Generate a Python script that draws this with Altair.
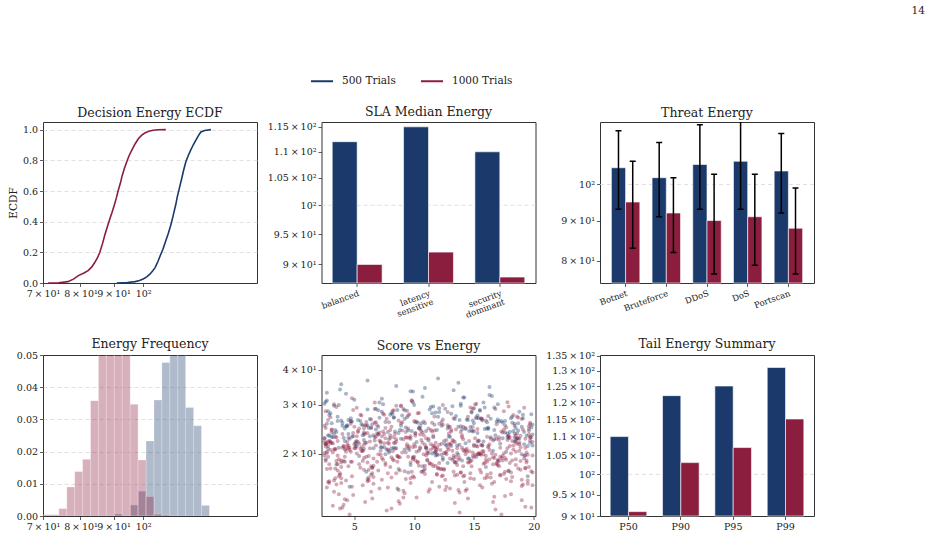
import altair as alt
import pandas as pd

SERIES = ["500 Trials", "1000 Trials"]
COLORS = ["#1b3a6b", "#8b1e3f"]
FONT = "DejaVu Serif"
INK = "#222222"
SPINE = "#333333"
GRID = "#d8d8d8"

PANEL_W = 214
PANEL_H = 161

# Decision-energy ECDF, sampled along each curve
ecdf_energy_500 = [91.0, 94.5, 97.2, 98.7, 100.0, 101.3, 102.5, 103.5, 104.4, 105.4, 106.3,
                   107.3, 108.2, 109.3, 110.3, 111.0, 111.6, 112.3, 112.9, 113.8, 114.7,
                   115.5, 116.4, 117.4, 118.4, 119.5, 120.6, 121.7, 122.8, 124.5, 127.3]
ecdf_frac_500 = [0.0, 0.003, 0.009, 0.016, 0.026, 0.04, 0.059, 0.08, 0.102, 0.14, 0.179,
                 0.22, 0.266, 0.32, 0.375, 0.42, 0.462, 0.51, 0.56, 0.62, 0.68,
                 0.735, 0.789, 0.83, 0.865, 0.9, 0.93, 0.96, 0.985, 0.995, 1.0]
ecdf_energy_1000 = [71.3, 74.0, 76.5, 78.0, 79.4, 81.0, 82.2, 83.3, 84.2, 85.0, 85.7,
                    86.5, 87.2, 88.0, 88.8, 89.5, 90.2, 90.9, 91.5, 92.2, 92.8,
                    93.5, 94.3, 95.1, 96.0, 97.1, 98.3, 99.4, 100.6, 102.0, 103.6,
                    105.5, 108.4]
ecdf_frac_1000 = [0.0, 0.002, 0.009, 0.025, 0.048, 0.065, 0.081, 0.105, 0.135, 0.165, 0.2,
                  0.255, 0.31, 0.365, 0.418, 0.46, 0.505, 0.555, 0.603, 0.65, 0.7,
                  0.745, 0.789, 0.83, 0.865, 0.905, 0.941, 0.963, 0.978, 0.99, 0.996,
                  0.999, 1.0]

# Median energy per SLA profile
sla_profiles = ["balanced", "latency sensitive", "security dominant"]
sla_median_500 = [112, 115, 110]
sla_median_1000 = [90, 92, 88]

# Energy per threat type (mean and standard deviation)
threat_types = ["Botnet", "Bruteforce", "DDoS", "DoS", "Portscan"]
threat_mean_500 = [105, 102, 106, 107, 104]
threat_std_500 = [12, 11, 13, 14, 12]
threat_mean_1000 = [95, 92, 90, 91, 88]
threat_std_1000 = [12, 10, 13, 12, 11]

# Energy histogram: shared log-spaced bin edges and density per bin
hist_edges = [70.00, 72.00, 74.07, 76.19, 78.37, 80.61, 82.92, 85.29, 87.73, 90.25,
              92.83, 95.49, 98.22, 101.03, 103.93, 106.90, 109.96, 113.11, 116.35,
              119.68, 123.11, 126.63, 130.26, 133.99, 137.82, 141.77, 145.83, 150.00]
hist_density_500 = [0, 0, 0, 0, 0, 0, 0, 0, 0, 0.0006, 0, 0.0034, 0.0077, 0.0233,
                    0.0360, 0.0477, 0.0620, 0.0660, 0.0337, 0.0280, 0.0033,
                    0, 0, 0, 0, 0, 0]
hist_density_1000 = [0.0004, 0.0004, 0.0023, 0.0090, 0.0138, 0.0176, 0.0358, 0.0580,
                     0.0690, 0.0680, 0.0610, 0.0347, 0.0174, 0.0061, 0.0006, 0.0003,
                     0, 0, 0, 0, 0, 0, 0, 0, 0, 0, 0]

# Score vs energy samples, stored in tenths
scatter_x_500 = [
    88, 154, 37, 121, 193, 65, 142, 29, 108, 176, 52, 131, 84, 163, 44, 118, 197, 73, 150, 99,
    161, 46, 113, 79, 185, 27, 136, 94, 58, 170, 124, 40, 148, 102, 195, 68, 157, 33, 129, 81,
    33, 126, 172, 61, 97, 145, 190, 50, 116, 80, 159, 28, 137, 103, 67, 183, 42, 155, 92, 199,
    120, 75, 198, 43, 152, 106, 31, 167, 87, 134, 59, 180, 25, 141, 96, 70, 174, 115, 48, 162,
    179, 55, 100, 147, 26, 131, 82, 192, 64, 117, 153, 38, 168, 91, 124, 47, 187, 72, 139, 109,
    70, 143, 30, 186, 112, 53, 165, 89, 128, 36, 196, 77, 150, 101, 61, 178, 119, 44, 157, 95,
    138, 35, 177, 86, 58, 123, 160, 27, 105, 192, 71, 146, 49, 116, 184, 83, 133, 62, 169, 41,
    51, 188, 93, 133, 39, 164, 74, 110, 199, 60, 149, 29, 125, 85, 174, 45, 104, 156, 68, 140,
    104, 166, 63, 25, 141, 89, 195, 118, 46, 176, 132, 76, 158, 34, 111, 182, 57, 97, 150, 73,
    194, 83, 127, 56, 171, 37, 110, 149, 92, 28, 184, 65, 137, 120, 42, 161, 79, 198, 101, 144,
    27, 112, 159, 98, 136, 181, 48, 73, 126, 190, 35, 153, 87, 66, 171, 109, 143, 54, 121, 188,
    146, 61, 85, 173, 32, 118, 158, 43, 197, 95, 135, 70, 182, 52, 107, 128, 26, 164, 80, 115,
    83, 199, 42, 139, 66, 107, 187, 30, 155, 119, 76, 170, 97, 39, 129, 58, 178, 90, 145, 123,
    167, 40, 123, 81, 148, 26, 99, 176, 63, 134, 191, 51, 114, 162, 86, 36, 153, 71, 185, 105,
    57, 130, 191, 110, 45, 163, 78, 140, 31, 185, 94, 117, 64, 179, 152, 28, 100, 138, 47, 167]
scatter_y_500 = [
    243, 268, 210, 291, 197, 255, 318, 232, 174, 262, 222, 278, 240, 347, 251, 203, 228, 283, 215, 306,
    259, 226, 288, 205, 247, 331, 214, 270, 238, 301, 193, 252, 281, 220, 166, 244, 263, 297, 231, 209,
    236, 290, 217, 253, 182, 264, 199, 312, 229, 276, 245, 208, 359, 258, 223, 241, 187, 285, 266, 234,
    271, 211, 248, 328, 195, 257, 230, 293, 176, 266, 219, 239, 302, 250, 206, 286, 227, 200, 261, 245,
    227, 262, 195, 249, 307, 213, 278, 239, 168, 254, 221, 340, 233, 289, 190, 268, 242, 211, 297, 257,
    250, 218, 279, 236, 201, 264, 322, 226, 185, 271, 245, 207, 291, 259, 366, 230, 198, 253, 214, 242,
    264, 239, 203, 287, 224, 252, 179, 310, 245, 216, 269, 192, 231, 295, 256, 210, 338, 247, 261, 228,
    218, 283, 248, 193, 263, 229, 301, 209, 254, 172, 240, 275, 222, 350, 258, 235, 205, 267, 290, 244,
    247, 205, 266, 227, 318, 252, 213, 281, 152, 238, 296, 260, 221, 243, 189, 271, 233, 335, 257, 211,
    232, 270, 214, 255, 188, 299, 241, 263, 207, 284, 229, 178, 250, 372, 222, 246, 202, 277, 236, 265,
    256, 223, 293, 241, 201, 268, 230, 315, 216, 250, 183, 274, 237, 209, 261, 344, 245, 196, 282, 226,
    241, 288, 209, 262, 229, 197, 305, 251, 219, 171, 273, 234, 258, 213, 320, 246, 191, 267, 228, 279,
    269, 214, 246, 302, 233, 180, 257, 221, 287, 243, 199, 265, 226, 355, 250, 208, 236, 274, 192, 260,
    225, 258, 198, 280, 242, 216, 334, 253, 231, 186, 268, 212, 294, 248, 150, 262, 237, 305, 220, 251,
    253, 230, 276, 211, 264, 325, 239, 189, 257, 224, 285, 202, 247, 173, 268, 233, 299, 215, 261, 243]
scatter_x_1000 = [
    137, 52, 181, 96, 29, 160, 74, 118, 193, 43, 150, 88, 127, 61, 172, 35, 105, 144, 69, 186,
    58, 122, 31, 176, 91, 143, 197, 66, 110, 39, 155, 83, 131, 48, 189, 101, 164, 27, 77, 140,
    113, 184, 71, 26, 149, 95, 134, 57, 198, 168, 41, 86, 121, 179, 63, 107, 33, 152, 192, 79,
    45, 163, 99, 128, 183, 37, 72, 146, 116, 55, 190, 84, 158, 28, 133, 67, 174, 104, 195, 50,
    175, 81, 139, 30, 119, 59, 187, 97, 154, 42, 126, 68, 166, 108, 34, 147, 89, 194, 53, 131,
    92, 136, 25, 170, 64, 112, 199, 46, 157, 76, 124, 185, 38, 101, 142, 60, 178, 87, 117, 162,
    129, 47, 191, 75, 156, 103, 32, 167, 85, 138, 58, 182, 114, 26, 148, 70, 196, 93, 44, 171,
    66, 153, 109, 180, 40, 125, 90, 161, 29, 135, 78, 196, 51, 115, 145, 36, 188, 98, 62, 173,
    188, 34, 120, 73, 159, 49, 141, 100, 27, 177, 82, 130, 57, 192, 111, 65, 151, 39, 169, 94,
    104, 169, 56, 143, 30, 95, 186, 123, 71, 158, 41, 110, 197, 80, 134, 48, 175, 61, 151, 118,
    33, 127, 80, 194, 62, 148, 105, 174, 42, 90, 136, 25, 165, 115, 54, 183, 73, 140, 99, 157,
    150, 68, 177, 112, 38, 132, 55, 189, 86, 162, 28, 107, 145, 74, 199, 45, 124, 93, 166, 59,
    79, 196, 43, 138, 102, 167, 26, 119, 61, 181, 87, 153, 35, 128, 70, 186, 97, 146, 50, 114,
    160, 31, 97, 72, 185, 52, 122, 141, 83, 37, 176, 109, 64, 155, 27, 133, 190, 46, 103, 171,
    117, 85, 149, 195, 44, 164, 76, 29, 129, 58, 183, 100, 140, 34, 171, 67, 111, 154, 89, 182,
    41, 178, 126, 57, 93, 137, 192, 68, 106, 150, 32, 161, 81, 120, 199, 49, 172, 95, 135, 25,
    197, 60, 88, 163, 121, 28, 144, 77, 182, 109, 53, 132, 40, 175, 96, 156, 66, 187, 113, 84,
    82, 142, 36, 114, 170, 65, 99, 189, 47, 127, 159, 75, 103, 30, 147, 193, 55, 130, 179, 62,
    139, 54, 168, 27, 105, 83, 152, 119, 193, 71, 36, 143, 90, 177, 45, 123, 60, 166, 98, 186,
    63, 180, 115, 48, 157, 92, 34, 133, 74, 198, 101, 167, 26, 139, 84, 118, 184, 52, 149, 78,
    173, 94, 35, 128, 65, 190, 108, 145, 51, 161, 80, 124, 30, 179, 98, 156, 43, 116, 137, 69,
    50, 125, 184, 88, 138, 32, 169, 59, 102, 195, 76, 148, 117, 38, 162, 87, 131, 25, 106, 175,
    121, 70, 154, 39, 197, 111, 82, 176, 56, 134, 95, 28, 164, 67, 141, 188, 47, 100, 153, 36,
    26, 161, 93, 146, 76, 181, 42, 120, 67, 151, 199, 85, 130, 53, 109, 172, 33, 158, 91, 127,
    187, 44, 135, 64, 113, 26, 170, 97, 155, 81, 123, 57, 191, 37, 144, 104, 73, 165, 49, 116,
    96, 147, 61, 178, 34, 130, 86, 112, 193, 45, 168, 72, 139, 27, 185, 58, 102, 152, 79, 143,
    154, 31, 107, 83, 166, 46, 194, 124, 62, 141, 99, 174, 39, 116, 75, 157, 28, 134, 185, 89,
    69, 189, 40, 119, 149, 91, 56, 172, 133, 29, 106, 181, 78, 160, 48, 125, 94, 198, 35, 142,
    132, 78, 163, 54, 101, 190, 31, 147, 87, 126, 64, 179, 110, 41, 155, 92, 169, 25, 118, 60,
    47, 115, 196, 136, 72, 156, 99, 33, 180, 58, 129, 85, 150, 66, 108, 193, 39, 173, 81, 121]
scatter_y_1000 = [
    198, 231, 171, 212, 157, 263, 190, 219, 178, 203, 241, 132, 224, 186, 168, 294, 208, 149, 236, 272,
    215, 176, 244, 193, 139, 206, 258, 181, 227, 163, 199, 286, 218, 152, 188, 232, 170, 201, 267, 210,
    184, 221, 150, 247, 196, 274, 167, 205, 229, 126, 213, 187, 256, 174, 209, 238, 160, 302, 192, 217,
    228, 191, 166, 253, 207, 143, 198, 222, 180, 276, 161, 235, 204, 213, 172, 289, 189, 246, 156, 216,
    200, 164, 239, 177, 211, 134, 269, 186, 223, 195, 148, 230, 183, 261, 208, 170, 296, 202, 220, 243,
    173, 209, 252, 188, 146, 226, 197, 121, 214, 182, 265, 203, 168, 237, 158, 219, 306, 194, 242, 211,
    236, 187, 155, 218, 171, 279, 202, 140, 225, 193, 246, 165, 207, 284, 180, 199, 251, 162, 214, 229,
    192, 245, 176, 213, 128, 201, 259, 168, 222, 186, 151, 234, 209, 183, 271, 197, 216, 311, 160, 240,
    219, 163, 198, 231, 185, 142, 206, 262, 176, 248, 191, 215, 154, 292, 204, 170, 227, 189, 255, 212,
    181, 226, 204, 147, 270, 195, 217, 166, 238, 199, 131, 210, 255, 179, 220, 187, 244, 159, 300, 203,
    207, 152, 233, 189, 175, 283, 211, 196, 137, 242, 168, 221, 200, 258, 183, 214, 161, 229, 193, 266,
    162, 214, 190, 246, 127, 205, 178, 232, 196, 273, 158, 219, 186, 240, 171, 209, 299, 202, 223, 253,
    225, 179, 208, 145, 261, 193, 218, 169, 237, 200, 135, 212, 188, 282, 174, 227, 163, 204, 250, 216,
    196, 238, 157, 221, 182, 292, 206, 166, 229, 191, 141, 215, 248, 175, 203, 268, 153, 210, 187, 224,
    212, 170, 249, 198, 136, 226, 185, 159, 217, 193, 275, 164, 233, 207, 180, 305, 200, 222, 257, 189,
    188, 224, 161, 205, 239, 148, 197, 259, 172, 213, 130, 230, 194, 178, 220, 287, 167, 209, 244, 201,
    230, 195, 174, 216, 152, 264, 203, 125, 222, 181, 241, 190, 210, 169, 277, 198, 156, 227, 185, 218,
    204, 167, 222, 243, 190, 138, 211, 175, 256, 199, 163, 235, 186, 219, 293, 177, 208, 150, 231, 196,
    171, 217, 198, 151, 234, 189, 270, 207, 129, 223, 183, 247, 202, 162, 214, 176, 260, 194, 309, 226,
    221, 185, 240, 166, 204, 144, 230, 197, 278, 173, 212, 158, 188, 251, 208, 181, 236, 200, 290, 219,
    193, 228, 155, 210, 178, 266, 199, 138, 220, 187, 243, 167, 206, 295, 172, 215, 160, 232, 190, 253,
    209, 176, 252, 194, 123, 218, 183, 236, 203, 160, 227, 189, 272, 170, 213, 148, 240, 197, 224, 284,
    185, 235, 201, 157, 223, 190, 285, 172, 211, 133, 246, 195, 164, 229, 180, 205, 262, 216, 199, 174,
    216, 164, 229, 186, 247, 143, 207, 177, 258, 198, 154, 221, 192, 239, 169, 210, 301, 184, 225, 203,
    177, 220, 195, 265, 149, 212, 182, 231, 200, 127, 217, 188, 244, 166, 208, 280, 193, 156, 237, 214,
    228, 188, 162, 209, 177, 249, 196, 146, 226, 180, 289, 205, 171, 218, 191, 234, 139, 213, 259, 199,
    199, 243, 172, 219, 134, 206, 186, 254, 164, 225, 194, 238, 179, 210, 276, 151, 221, 187, 232, 298,
    187, 211, 235, 168, 202, 147, 274, 195, 222, 183, 241, 159, 207, 190, 316, 175, 216, 128, 229, 204,
    224, 170, 206, 246, 189, 136, 218, 163, 263, 201, 180, 232, 197, 212, 154, 286, 185, 227, 208, 252,
    203, 158, 241, 182, 219, 268, 191, 146, 228, 175, 207, 297, 194, 165, 233, 210, 186, 121, 250, 215]

# Tail percentiles of decision energy
tail_levels = ["P50", "P90", "P95", "P99"]
tail_500 = [110, 122, 125, 131]
tail_1000 = [91, 103, 107, 115]

# Log-axis labels in mantissa x 10^exponent form
EXP = "floor(log(datum.value) / LN10 + 1e-6)"
MANT = f"round(datum.value / pow(10, {EXP}) * 100) / 100"
SUP = f"({EXP} == 2 ? '\u00b2' : '\u00b9')"
LOG_LABEL = f"({MANT} == 1 ? '' : {MANT} + '\u2009\u00d7\u2009') + '10' + {SUP}"


def color_enc(legend=None):
    return alt.Color("series:N", scale=alt.Scale(domain=SERIES, range=COLORS), legend=legend)


def log_axis(values):
    return alt.Axis(values=values, labelExpr=LOG_LABEL, title=None, grid=False)


def log_y(field, domain, ticks):
    return alt.Y(f"{field}:Q", scale=alt.Scale(type="log", domain=domain, nice=False),
                 axis=log_axis(ticks))


def decade_grid(domain, ticks, field="energy"):
    return alt.Chart(pd.DataFrame({field: [100]})).mark_rule(
        color=GRID, strokeDash=[4, 3], strokeWidth=0.8
    ).encode(y=log_y(field, domain, ticks))


def inner_grid(lo, hi):
    # hide gridlines that would sit on the frame
    return {"condition": {"test": f"datum.value <= {lo} || datum.value >= {hi}", "value": 0},
            "value": 1}


def band_x(field, cats, outer, axis):
    return alt.X(f"{field}:N", sort=cats, scale=alt.Scale(paddingInner=0, paddingOuter=outer),
                 axis=axis)


X_OFFSET = alt.XOffset("series:N", sort=SERIES,
                       scale=alt.Scale(domain=SERIES, paddingInner=0, paddingOuter=0.43))


def long_table(cat_name, cats, values_by_series):
    rows = []
    for s, vals in zip(SERIES, values_by_series):
        for c, v in zip(cats, vals):
            rows.append({cat_name: c, "series": s, "energy": v})
    return pd.DataFrame(rows)


# ---- Decision Energy ECDF ----
ecdf_df = pd.concat([
    pd.DataFrame({"energy": ecdf_energy_500, "frac": ecdf_frac_500, "series": SERIES[0]}),
    pd.DataFrame({"energy": ecdf_energy_1000, "frac": ecdf_frac_1000, "series": SERIES[1]}),
])
legend = alt.Legend(
    orient="none", legendX=267, legendY=-53, direction="horizontal", title=None,
    symbolType="stroke", symbolSize=484, symbolStrokeWidth=2, labelFont=FONT,
    labelFontSize=10.5, labelColor=INK, labelOffset=8, columnPadding=21, padding=0,
)
energy_log_x = alt.Scale(type="log", domain=[70, 150], nice=False)
p1 = alt.Chart(ecdf_df, title="Decision Energy ECDF").mark_line(strokeWidth=1.6).encode(
    x=alt.X("energy:Q", scale=energy_log_x, axis=log_axis([70, 80, 90, 100])),
    y=alt.Y("frac:Q", scale=alt.Scale(domain=[0, 1.05], nice=False),
            axis=alt.Axis(values=[0, 0.2, 0.4, 0.6, 0.8, 1.0], format=".1f", title="ECDF",
                          grid=True, gridOpacity=inner_grid(0, 1.05), titlePadding=4)),
    color=color_enc(legend),
).properties(width=PANEL_W, height=PANEL_H)

# ---- SLA Median Energy ----
sla_dom, sla_ticks = [87.07, 116.0], [90, 95, 100, 105, 110, 115]
sla_df = long_table("profile", sla_profiles, [sla_median_500, sla_median_1000])
rot_axis = dict(title=None, labelAngle=340, labelAlign="right", labelBaseline="top",
                labelFontSize=8.5, labelExpr="split(datum.label, ' ')", labelLineHeight=9)
p2 = alt.layer(
    decade_grid(sla_dom, sla_ticks),
    alt.Chart(sla_df).mark_bar(stroke="white", strokeWidth=0.6).encode(
        x=band_x("profile", sla_profiles, 0, alt.Axis(**rot_axis)),
        xOffset=X_OFFSET,
        y=log_y("energy", sla_dom, sla_ticks),
        y2=alt.datum(sla_dom[0]),
        color=color_enc(),
    ),
    title="SLA Median Energy",
).properties(width=PANEL_W, height=PANEL_H)

# ---- Threat Energy ----
thr_dom, thr_ticks = [75, 120], [80, 90, 100]
thr_rows = []
for s, means, stds in [(SERIES[0], threat_mean_500, threat_std_500),
                       (SERIES[1], threat_mean_1000, threat_std_1000)]:
    for t, m, sd in zip(threat_types, means, stds):
        thr_rows.append({"threat": t, "series": s, "energy": m, "lo": m - sd, "hi": m + sd})
thr_df = pd.DataFrame(thr_rows)
thr_x = band_x("threat", threat_types, 0.129, alt.Axis(**rot_axis))
thr_base = alt.Chart(thr_df)
p3 = alt.layer(
    decade_grid(thr_dom, thr_ticks),
    thr_base.mark_bar(stroke="white", strokeWidth=0.6).encode(
        x=thr_x, xOffset=X_OFFSET, y=log_y("energy", thr_dom, thr_ticks),
        y2=alt.datum(thr_dom[0]), color=color_enc()),
    # error bar stems
    thr_base.mark_bar(width=1.5, color="black", clip=True).encode(
        x=thr_x, xOffset=X_OFFSET, y=log_y("lo", thr_dom, thr_ticks), y2="hi:Q"),
    # error bar caps
    thr_base.mark_bar(width=6, fill="black", stroke="black", strokeWidth=1.5, clip=True).encode(
        x=thr_x, xOffset=X_OFFSET, y=log_y("lo", thr_dom, thr_ticks), y2="lo:Q"),
    thr_base.mark_bar(width=6, fill="black", stroke="black", strokeWidth=1.5, clip=True).encode(
        x=thr_x, xOffset=X_OFFSET, y=log_y("hi", thr_dom, thr_ticks), y2="hi:Q"),
    title="Threat Energy",
).properties(width=PANEL_W, height=PANEL_H)

# ---- Energy Frequency ----
hist_rows = []
for s, dens in [(SERIES[0], hist_density_500), (SERIES[1], hist_density_1000)]:
    for i, d in enumerate(dens):
        if d > 0:
            hist_rows.append({"series": s, "lo": hist_edges[i], "hi": hist_edges[i + 1],
                              "density": d})
hist_df = pd.DataFrame(hist_rows)
p4 = alt.Chart(hist_df, title=alt.TitleParams("Energy Frequency", dy=3)).mark_rect(
    fillOpacity=0.35, stroke="white", strokeWidth=0.5, strokeOpacity=0.5, clip=True
).encode(
    x=alt.X("lo:Q", scale=energy_log_x, axis=log_axis([70, 80, 90, 100])),
    x2="hi:Q",
    y=alt.Y("density:Q", scale=alt.Scale(domain=[0, 0.05], nice=False),
            axis=alt.Axis(values=[0, 0.01, 0.02, 0.03, 0.04, 0.05], format=".2f",
                          title=None, grid=True, gridOpacity=inner_grid(0, 0.0499))),
    y2=alt.datum(0),
    color=color_enc(),
).properties(width=PANEL_W, height=PANEL_H)

# ---- Score vs Energy ----
sc_df = pd.concat([
    pd.DataFrame({"x": scatter_x_500, "y": scatter_y_500, "series": SERIES[0]}),
    pd.DataFrame({"x": scatter_x_1000, "y": scatter_y_1000, "series": SERIES[1]}),
])
p5 = alt.Chart(sc_df, title="Score vs Energy").transform_calculate(
    xv="datum.x / 10", yv="datum.y / 10"
).mark_circle(size=16, opacity=0.38, clip=True).encode(
    x=alt.X("xv:Q", scale=alt.Scale(domain=[2.25, 20.15], nice=False, zero=False),
            axis=alt.Axis(values=[5, 10, 15, 20], format="d", title=None, grid=False)),
    y=alt.Y("yv:Q", scale=alt.Scale(type="log", domain=[11.94, 45.2], nice=False),
            axis=log_axis([20, 30, 40])),
    color=color_enc(),
).properties(width=PANEL_W, height=PANEL_H)

# ---- Tail Energy Summary ----
tail_dom = [90, 135.2]
tail_ticks = [90, 95, 100, 105, 110, 115, 120, 125, 130, 135]
tail_df = long_table("level", tail_levels, [tail_500, tail_1000])
p6 = alt.layer(
    decade_grid(tail_dom, tail_ticks),
    alt.Chart(tail_df).mark_bar(stroke="white", strokeWidth=0.6).encode(
        x=band_x("level", tail_levels, 0.044,
                 alt.Axis(title=None, labelAngle=0, labelFontSize=9.5)),
        xOffset=X_OFFSET,
        y=log_y("energy", tail_dom, tail_ticks),
        y2=alt.datum(tail_dom[0]),
        color=color_enc(),
    ),
    title=alt.TitleParams("Tail Energy Summary", dy=3),
).properties(width=PANEL_W, height=PANEL_H)

chart = alt.concat(
    p1, p2, p3, p4, p5, p6,
    columns=3,
    spacing=alt.RowColnumber(row=72, column=64.5),
    bounds="flush",
    title=alt.TitleParams("14", anchor="end", font=FONT, fontSize=10.5, fontWeight="normal",
                          color=INK, offset=53, dx=110),
).resolve_scale(
    xOffset="independent"
).properties(
    padding={"left": 7, "top": 5, "right": 0, "bottom": 0}
).configure(
    font=FONT
).configure_view(
    stroke=SPINE, strokeWidth=1
).configure_axis(
    domain=False, labelFont=FONT, labelFontSize=9.5, labelColor=INK, tickColor=SPINE,
    tickSize=3.5, tickWidth=0.8, labelPadding=2, titleFont=FONT, titleFontSize=10.5,
    titleFontWeight="normal", titleColor=INK, gridColor=GRID, gridDash=[4, 3],
    gridWidth=0.8, labelFlush=False, labelOverlap=False,
).configure_title(
    font=FONT, fontSize=12.5, fontWeight="normal", color=INK, offset=3
)

chart.save("out.html", embed_options={"renderer": "svg", "actions": False})
